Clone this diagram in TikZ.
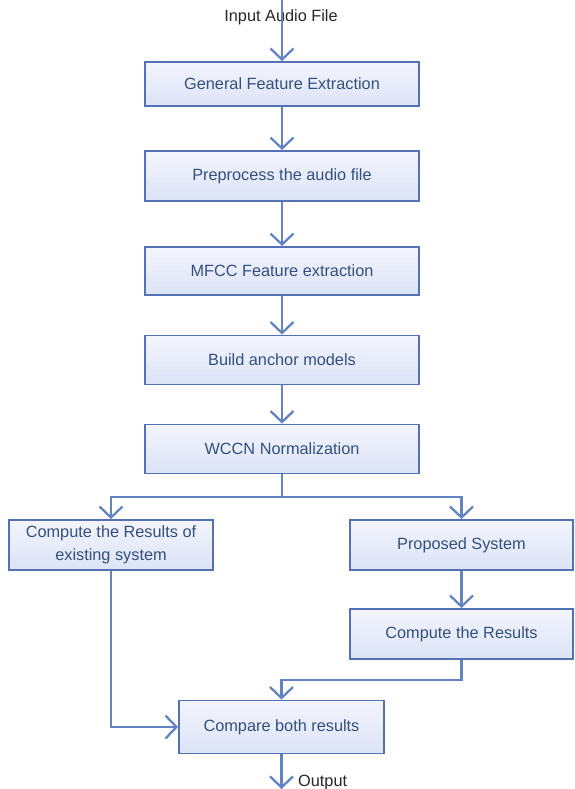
\documentclass[tikz,border=0pt]{standalone}
\usepackage{fontspec}
\setmainfont{Liberation Sans}
\usetikzlibrary{arrows.meta}
\definecolor{bordc}{HTML}{5571B5}
\definecolor{linec}{HTML}{6383C4}
\definecolor{txtc}{HTML}{34507E}
\definecolor{filltop}{HTML}{F3F5FD}
\definecolor{fillbot}{HTML}{DCE3F6}
\begin{document}
\begin{tikzpicture}[x=1pt,y=-1pt,
  box/.style={draw=bordc, line width=1.8pt, top color=filltop, bottom color=fillbot,
    text=txtc, font=\fontsize{16.3}{23}\selectfont, inner sep=0pt, align=center},
  conn/.style={draw=linec, line width=2.3pt},
  arr/.style={conn, -{Straight Barb[length=11pt,width=23pt,line width=2.3pt]}},
  lbl/.style={text=black!85, font=\fontsize{16.3}{19}\selectfont, inner sep=0pt}]
\useasboundingbox (0,0) rectangle (574,789);
\node[lbl] (in) at (281,17) {Input Audio File};
\coordinate (top) at (282,0);
\node[box, minimum width=274pt, minimum height=44pt] (g1) at (282,84) {General Feature Extraction};
\node[box, minimum width=274pt, minimum height=50pt] (g2) at (282,176) {Preprocess the audio file};
\node[box, minimum width=274pt, minimum height=48pt] (g3) at (282,271) {MFCC Feature extraction};
\node[box, minimum width=274pt, minimum height=49pt] (g4) at (282,360) {Build anchor models};
\node[box, minimum width=274pt, minimum height=49pt] (g5) at (282,449) {WCCN Normalization};
\node[box, minimum width=204pt, minimum height=50pt] (ex) at (111,545) {Compute the Results of\\existing system};
\node[box, minimum width=223pt, minimum height=50pt] (ps) at (461.5,545) {Proposed System};
\node[box, minimum width=223pt, minimum height=50pt] (cr) at (461.5,634) {Compute the Results};
\node[box, minimum width=205pt, minimum height=53pt] (cb) at (281.5,727) {Compare both results};
\coordinate (br) at (282,497);
\coordinate (out) at (281.5,789);
\node[lbl, anchor=west] (ol) at (298,782) {Output};
\draw[arr] (top) -- (g1.north);
\draw[arr] (g1.south) -- (g2.north);
\draw[arr] (g2.south) -- (g3.north);
\draw[arr] (g3.south) -- (g4.north);
\draw[arr] (g4.south) -- (g5.north);
\draw[conn] (g5.south) -- (br);
\draw[arr] (br) -| (ex.north);
\draw[arr] (br) -| (ps.north);
\draw[arr] (ps.south) -- (cr.north);
\draw[arr] (cr.south) -- ++(0,20) -| (cb.north);
\draw[arr] (ex.south) |- (cb.west);
\draw[arr] (cb.south) -- (out);
\end{tikzpicture}
\end{document}
